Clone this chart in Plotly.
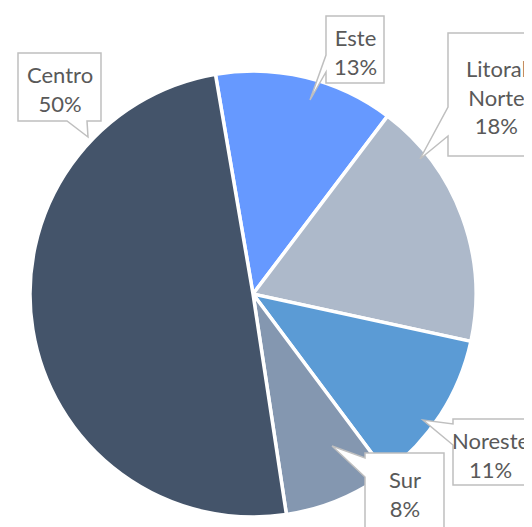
import plotly.graph_objects as go

# ---- data ----
categories = ["Este", "Litoral Norte", "Noreste", "Sur", "Centro"]
values = [13.0, 18.1, 11.4, 7.8, 49.7]
colors = ["#6699FF", "#ADB9CA", "#5B9BD5", "#8497B0", "#44546A"]

# ---- layout (pixels, in window coordinates) ----
WIN_W, WIN_H = 532, 527
OFF = 8  # page body margin
W, H = WIN_W - OFF, WIN_H - OFF
# callout boxes: (left, top, right, bottom), pointer side, base (a, b), tip (x, y), text center (x, y)
callouts = [
    dict(box=(326, 16, 384, 83), side="left", base=(55, 72), tip=(310, 100), tc=(355, 52)),
    dict(box=(448, 33, 550, 156), side="left", base=(107, 136), tip=(420, 159), tc=(496, 97)),
    dict(box=(453, 419, 548, 485), side="left", base=(424, 445), tip=(423, 420), tc=(490, 455)),
    dict(box=(365, 453, 444, 536), side="left", base=(458, 477), tip=(332, 446), tc=(405, 494)),
    dict(box=(18, 53, 101, 121), side="bottom", base=(67, 87), tip=(88, 137), tc=(60, 89)),
]
CX, CY, R = 253, 294, 223

def px(x):
    return (x - OFF) / W

def py(y):
    return 1 - (y - OFF) / H

def callout_path(c):
    l, t, r, b = c["box"]
    a0, a1 = c["base"]
    tx, ty = c["tip"]
    if c["side"] == "left":
        pts = [(l, t), (r, t), (r, b), (l, b), (l, a1), (tx, ty), (l, a0)]
    else:  # bottom
        pts = [(l, t), (r, t), (r, b), (a1, b), (tx, ty), (a0, b), (l, b)]
    return "M " + " L ".join(f"{px(x):.5f},{py(y):.5f}" for x, y in pts) + " Z"

total = sum(values)

fig = go.Figure(
    go.Pie(
        labels=categories,
        values=values,
        sort=False,
        direction="clockwise",
        rotation=-9.7,
        marker=dict(colors=colors, line=dict(color="white", width=3.5)),
        textinfo="none",
        showlegend=False,
        domain=dict(x=[px(CX - R), px(CX + R)], y=[py(CY + R), py(CY - R)]),
    )
)

shapes = []
annotations = []
for cat, v, c in zip(categories, values, callouts):
    shapes.append(dict(
        type="path", xref="paper", yref="paper", path=callout_path(c),
        fillcolor="white", line=dict(color="#BFBFBF", width=1.5), layer="above",
    ))
    annotations.append(dict(
        x=px(c["tc"][0]), y=py(c["tc"][1]), xref="paper", yref="paper",
        text=f"{cat.replace(' ', '<br>')}<br>{round(v / total * 100)}%",
        showarrow=False, xanchor="center", yanchor="middle", align="center",
        font=dict(family="Lato", size=22, color="#595959"),
    ))

fig.update_layout(
    width=W, height=H,
    margin=dict(l=0, r=0, t=0, b=0),
    paper_bgcolor="white", plot_bgcolor="white",
    shapes=shapes, annotations=annotations,
)

fig.write_html("out.html")
